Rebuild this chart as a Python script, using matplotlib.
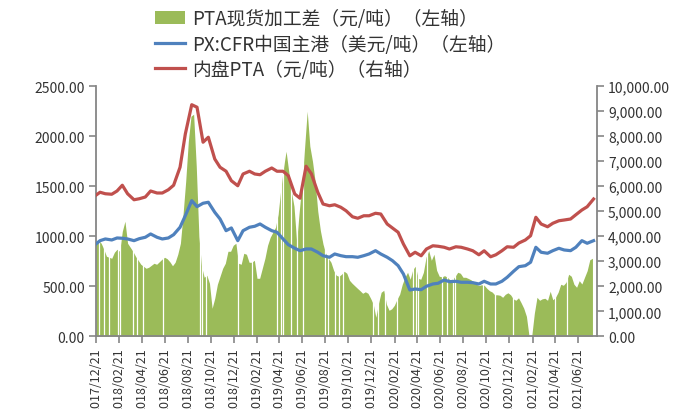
import numpy as np
import pandas as pd
import matplotlib
matplotlib.use('Agg')
import matplotlib.pyplot as plt
import matplotlib.dates as mdates
from matplotlib.patches import Patch
from matplotlib.lines import Line2D
from matplotlib.ticker import FuncFormatter

plt.rcParams['font.family'] = ['Noto Sans CJK SC', 'DejaVu Sans']

# ---------------------------------------------------------------------------
# Datos
# ---------------------------------------------------------------------------
# Fechas de las líneas: 21/12/2017 y luego días 1 y 15 de cada mes
line_dates = pd.DatetimeIndex(['2017-12-21']).append(
    pd.date_range('2018-01-01', '2021-08-01', freq='SMS'))

# PX:CFR 中国主港 (美元/吨), eje izquierdo
px_cfr = [923,
          956, 973, 963, 983, 980, 973, 956, 976, 990, 1023, 990, 973,
          983, 1016, 1090, 1206, 1356, 1296, 1330, 1340, 1240, 1173, 1056, 1083,
          956, 1056, 1090, 1100, 1123, 1090, 1056, 1040, 973, 916, 880, 856,
          873, 873, 840, 806, 790, 823, 806, 796, 796, 790, 806, 823,
          856, 823, 790, 756, 706, 623, 463, 473, 466, 500, 523, 530,
          563, 546, 550, 540, 540, 536, 523, 550, 523, 523, 550, 590,
          650, 696, 706, 740, 890, 840, 830, 856, 880, 863, 856, 890,
          956, 930, 956]

# 内盘PTA (元/吨), eje derecho
pta_price = [5640,
             5760, 5700, 5680, 5810, 6040, 5700, 5460, 5500, 5570, 5810, 5730, 5730,
             5860, 6040, 6760, 8090, 9260, 9160, 7760, 7960, 7090, 6760, 6600, 6220,
             6020, 6490, 6600, 6490, 6460, 6600, 6730, 6600, 6600, 6420, 5690, 5520,
             6800, 6500, 5760, 5290, 5220, 5260, 5160, 5020, 4780, 4720, 4820, 4820,
             4920, 4890, 4490, 4330, 4160, 3690, 3220, 3360, 3220, 3490, 3620, 3600,
             3560, 3490, 3580, 3560, 3490, 3420, 3260, 3420, 3180, 3260, 3420, 3580,
             3560, 3730, 3850, 4020, 4760, 4490, 4380, 4520, 4620, 4650, 4690, 4860,
             5050, 5180, 5490]

# PTA现货加工差 (元/吨), eje izquierdo, datos semanales desde 21/12/2017
spread_vals = [930, 960, 930, 870, 800, 790, 780, 840, 870, 850,
               1050, 1150, 930, 890, 850, 800, 760, 720, 700, 680,
               690, 710, 730, 720, 745, 770, 790, 775, 745, 705,
               740, 820, 930, 1220, 1550, 1950, 2200, 2220, 1700, 1000,
               700, 590, 610, 530, 280, 380, 520, 600, 680, 730,
               850, 850, 910, 930, 730, 720, 830, 820, 740, 740,
               760, 580, 580, 680, 780, 910, 990, 1040, 1090, 1220,
               1470, 1680, 1850, 1650, 1450, 1300, 950, 1250, 1530, 1880,
               2250, 1900, 1750, 1550, 1250, 1056, 920, 830, 780, 740,
               660, 610, 600, 620, 650, 630, 560, 530, 505, 480,
               456, 430, 445, 430, 380, 323, 190, 330, 440, 460,
               320, 260, 275, 310, 370, 420, 520, 590, 640, 570,
               670, 700, 580, 570, 640, 790, 856, 760, 820, 660,
               600, 595, 606, 592, 565, 570, 600, 640, 630, 590,
               590, 578, 565, 545, 520, 508, 515, 510, 480, 456,
               443, 415, 415, 410, 390, 420, 435, 415, 375, 360,
               385, 335, 280, 200, 0, 0, 230, 390, 360, 375,
               380, 360, 450, 365, 390, 440, 520, 510, 540, 620,
               600, 520, 490, 556, 523, 590, 656, 765, 780]
spread_dates = pd.date_range('2017-12-21', periods=len(spread_vals), freq='7D')

# Días sin dato en el diferencial (huecos blancos)
gap_dates = pd.to_datetime([
    '2017-12-29', '2018-01-11', '2018-01-24', '2018-02-17', '2018-02-22',
    '2018-03-30', '2018-04-08', '2018-04-24', '2018-06-16', '2018-09-23',
    '2018-09-27', '2018-10-08', '2019-01-01', '2019-02-09', '2019-04-16',
    '2019-04-26', '2019-05-01', '2019-05-22', '2019-06-07', '2019-06-22',
    '2019-08-21', '2019-08-27', '2019-09-17', '2019-09-25', '2019-10-08',
    '2019-12-26', '2020-01-07', '2020-01-27', '2020-02-28', '2020-04-10',
    '2020-04-17', '2020-04-23', '2020-05-17', '2020-06-25', '2020-07-09',
    '2020-07-25', '2020-07-30', '2020-10-12', '2020-11-13', '2020-12-31',
    '2021-04-21', '2021-05-23'])

# Ticks del eje X: día 21 cada dos meses
tick_dates = pd.date_range('2017-12-01', '2021-06-01', freq='2MS') + pd.Timedelta(days=20)

labels = ['PTA现货加工差（元/吨）（左轴）',
          'PX:CFR中国主港（美元/吨）（左轴）',
          '内盘PTA（元/吨）（右轴）']

GREEN = '#9BBB59'
BLUE = '#4F81BD'
RED = '#C0504D'
AXIS = '#868686'
TEXT = '#333333'

# ---------------------------------------------------------------------------
# Figura
# ---------------------------------------------------------------------------
fig = plt.figure(figsize=(6.85, 4.10), dpi=100)
ax = fig.add_axes([0.140, 0.1773, 0.7315, 0.610])
ax2 = ax.twinx()

ax.fill_between(spread_dates, spread_vals, 0, color=GREEN, lw=0, zorder=1)
ax.vlines(gap_dates, 0, 2500, color='white', lw=0.9, zorder=2)
ax.plot(line_dates, px_cfr, color=BLUE, lw=2.3, zorder=3)
ax2.plot(line_dates, pta_price, color=RED, lw=2.3, zorder=3)

ax.set_ylim(0, 2500)
ax.set_yticks(np.arange(0, 2501, 500))
ax.yaxis.set_major_formatter(FuncFormatter(lambda v, p: f'{v:.2f}'))
ax2.set_ylim(0, 10000)
ax2.set_yticks(np.arange(0, 10001, 1000))
ax2.yaxis.set_major_formatter(FuncFormatter(lambda v, p: f'{v:,.2f}'))

ax.set_xlim(pd.Timestamp('2017-12-21'), pd.Timestamp('2021-08-10'))
ax.set_xticks(tick_dates)
ax.xaxis.set_major_formatter(mdates.DateFormatter('%Y/%m/%d'))

for a in (ax, ax2):
    a.spines['top'].set_visible(False)
    for s in ('left', 'right', 'bottom'):
        a.spines[s].set_color(AXIS)
        a.spines[s].set_linewidth(1.3)
    a.tick_params(colors=AXIS, labelcolor=TEXT, labelsize=10, length=5, width=1.2, pad=3)
ax.tick_params(axis='x', labelsize=9, labelrotation=90)
ax.spines['right'].set_visible(False)
ax2.spines['left'].set_visible(False)
ax2.spines['bottom'].set_visible(False)

handles = [Patch(color=GREEN, lw=0),
           Line2D([], [], color=BLUE, lw=2.3),
           Line2D([], [], color=RED, lw=2.3)]
fig.legend(handles, labels, loc='upper left', bbox_to_anchor=(0.2265, 0.977),
           frameon=False, fontsize=13.5, handlelength=1.6, handleheight=0.7,
           handletextpad=0.37, labelspacing=0.22, borderaxespad=0, borderpad=0)
for t in fig.legends[0].get_texts():
    t.set_color(TEXT)

fig.savefig('out.png', dpi=100)
